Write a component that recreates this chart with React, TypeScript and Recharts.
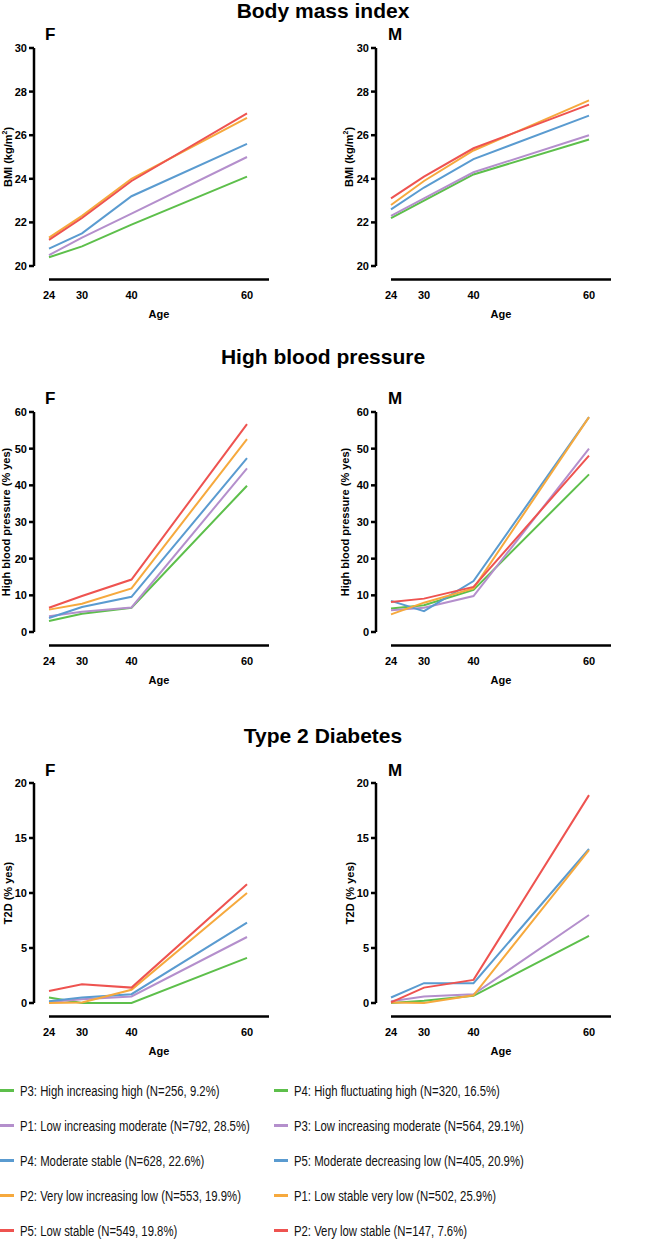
import React from 'react';
import { LineChart, Line, XAxis, YAxis, ReferenceLine, Legend } from 'recharts';

// x positions of the four measurement ages, and the labels printed under them
const AGE_POS = [24, 30, 39, 60];
const AGE_LABELS = ['24', '30', '40', '60'];

// series order everywhere: green, purple, blue, orange, red
const COLORS = ['#5dbf4b', '#b48fcc', '#5a9bd0', '#f6a93d', '#ee5350'];

const F_NAMES = [
  'P3: High increasing high (N=256, 9.2%)',
  'P1: Low increasing moderate (N=792, 28.5%)',
  'P4: Moderate stable (N=628, 22.6%)',
  'P2: Very low increasing low (N=553, 19.9%)',
  'P5: Low stable (N=549, 19.8%)',
];
const M_NAMES = [
  'P4: High fluctuating high (N=320, 16.5%)',
  'P3: Low increasing moderate (N=564, 29.1%)',
  'P5: Moderate decreasing low (N=405, 20.9%)',
  'P1: Low stable very low (N=502, 25.9%)',
  'P2: Very low stable (N=147, 7.6%)',
];

const BMI_F = [
  [20.4, 20.9, 21.9, 24.1],
  [20.5, 21.3, 22.4, 25.0],
  [20.8, 21.5, 23.2, 25.6],
  [21.3, 22.3, 24.0, 26.8],
  [21.2, 22.2, 23.9, 27.0],
];
const BMI_M = [
  [22.2, 23.0, 24.2, 25.8],
  [22.3, 23.1, 24.3, 26.0],
  [22.6, 23.6, 24.9, 26.9],
  [22.8, 23.9, 25.3, 27.6],
  [23.1, 24.1, 25.4, 27.4],
];
const HBP_F = [
  [3.0, 5.0, 6.6, 39.9],
  [4.3, 5.5, 6.7, 44.6],
  [3.8, 6.8, 9.6, 47.4],
  [6.1, 7.7, 11.9, 52.6],
  [6.6, 9.8, 14.3, 56.7],
];
const HBP_M = [
  [6.4, 7.3, 11.5, 43.0],
  [5.9, 6.6, 9.8, 50.0],
  [8.5, 5.7, 13.9, 58.6],
  [4.8, 8.0, 11.9, 58.6],
  [8.2, 9.1, 12.3, 48.1],
];
const T2D_F = [
  [0.5, 0.0, 0.0, 4.1],
  [0.1, 0.35, 0.6, 6.0],
  [0.15, 0.5, 0.8, 7.3],
  [0.0, 0.05, 1.2, 10.0],
  [1.1, 1.7, 1.4, 10.8],
];
const T2D_M = [
  [0.0, 0.2, 0.65, 6.1],
  [0.15, 0.6, 0.8, 8.0],
  [0.5, 1.8, 1.8, 14.0],
  [0.05, 0.0, 0.7, 13.9],
  [0.05, 1.4, 2.1, 18.9],
];

const BMI_TICKS = [20, 22, 24, 26, 28, 30];
const HBP_TICKS = [0, 10, 20, 30, 40, 50, 60];
const T2D_TICKS = [0, 5, 10, 15, 20];

const FONT = '"Liberation Sans", Arial, Helvetica, sans-serif';

const yLabel = (text: React.ReactNode, dx: number) => (props: any) => {
  const { x, y, height } = props.viewBox;
  const cx = x + dx;
  const cy = y + height / 2;
  return (
    <text
      x={cx}
      y={cy}
      transform={`rotate(-90, ${cx}, ${cy})`}
      textAnchor="middle"
      dominantBaseline="central"
      fontSize={11}
      fontWeight={700}
      fontFamily={FONT}
      fill="#000"
    >
      {text}
    </text>
  );
};

const ageLabel = (props: any) => {
  const { x, y, width } = props.viewBox;
  return (
    <text
      x={x + 15 + (width - 15) / 2}
      y={y + 48}
      textAnchor="middle"
      dominantBaseline="central"
      fontSize={11}
      fontWeight={700}
      fontFamily={FONT}
      fill="#000"
    >
      Age
    </text>
  );
};

// the legend face is a narrow sans; squeeze the regular one horizontally
const renderLegend = (props: any) => {
  const items = [...(props.payload || [])].sort((a: any, b: any) =>
    String(a.dataKey).localeCompare(String(b.dataKey))
  );
  return (
    <div style={{ paddingTop: 13 }}>
      {items.map((it: any) => (
        <div key={it.dataKey} style={{ height: 35, display: 'flex', alignItems: 'center' }}>
          <span style={{ width: 14, height: 3, background: it.color, display: 'inline-block', flex: 'none' }} />
          <span
            style={{
              marginLeft: 6,
              fontFamily: FONT,
              fontSize: 14,
              color: '#111',
              whiteSpace: 'nowrap',
              display: 'inline-block',
              transform: 'scaleX(0.81)',
              transformOrigin: 'left center',
            }}
          >
            {it.value}
          </span>
        </div>
      ))}
    </div>
  );
};

interface PanelProps {
  left: number;
  top: number;
  height: number;
  axisW: number;
  values: number[][];
  names: string[];
  yDomain: [number, number];
  yTicks: number[];
  label: React.ReactNode;
  labelDx: number;
  legendLeft?: number;
}

const Panel: React.FC<PanelProps> = ({
  left, top, height, axisW, values, names, yDomain, yTicks, label, labelDx, legendLeft,
}) => {
  const data = AGE_POS.map((age, i) => {
    const row: any = { age };
    values.forEach((s, k) => {
      row['s' + k] = s[i];
    });
    return row;
  });
  const tickStyle = { fontSize: 11, fontWeight: 700, fill: '#000', fontFamily: FONT };
  return (
    <div style={{ position: 'absolute', left, top }}>
      <LineChart width={axisW + 256} height={height} data={data} margin={{ top: 10, right: 21, bottom: 0, left: 0 }}>
        <XAxis
          dataKey="age"
          type="number"
          domain={[24, 64]}
          ticks={AGE_POS}
          interval={0}
          tickFormatter={(v: number) => AGE_LABELS[AGE_POS.indexOf(v)]}
          padding={{ left: 15, right: 0 }}
          axisLine={false}
          tickLine={false}
          tickSize={0}
          tickMargin={25}
          height={57}
          tick={tickStyle}
          label={{ content: ageLabel }}
        />
        <YAxis
          type="number"
          domain={yDomain}
          ticks={yTicks}
          interval={0}
          width={axisW}
          stroke="#000"
          axisLine={{ stroke: '#000', strokeWidth: 2.5 }}
          tickLine={{ stroke: '#000', strokeWidth: 2.5 }}
          tickSize={5}
          tickMargin={2}
          tick={tickStyle}
          label={{ content: yLabel(label, labelDx) }}
        />
        <ReferenceLine
          segment={[{ x: 24, y: yDomain[0] }, { x: 64, y: yDomain[0] }]}
          ifOverflow="visible"
          shape={(p: any) => (
            <line x1={p.x1} y1={p.y1 + 13.5} x2={p.x2} y2={p.y2 + 13.5} stroke="#000" strokeWidth={2.5} />
          )}
        />
        {values.map((_, k) => (
          <Line
            key={k}
            type="linear"
            dataKey={'s' + k}
            name={names[k]}
            stroke={COLORS[k]}
            strokeWidth={2}
            dot={false}
            activeDot={false}
            isAnimationActive={false}
          />
        ))}
        {legendLeft !== undefined && (
          <Legend
            layout="vertical"
            align="center"
            verticalAlign="bottom"
            wrapperStyle={{ left: legendLeft, width: 330 }}
            content={renderLegend}
          />
        )}
      </LineChart>
    </div>
  );
};

const titleStyle = (top: number): React.CSSProperties => ({
  position: 'absolute',
  left: 0,
  width: 646,
  top,
  textAlign: 'center',
  fontFamily: FONT,
  fontWeight: 700,
  fontSize: 21,
  lineHeight: '20px',
  color: '#000',
});

const letterStyle = (x: number, center: number): React.CSSProperties => ({
  position: 'absolute',
  left: x,
  top: center - 8.3,
  fontFamily: FONT,
  fontWeight: 700,
  fontSize: 17,
  lineHeight: '17px',
  color: '#000',
});

const bmiLabel = (
  <>
    BMI (kg/m<tspan dy={-4} fontSize={7}>2</tspan>
    <tspan dy={4}>)</tspan>
  </>
);

const App: React.FC = () => (
  <div
    style={{
      position: 'absolute',
      left: 0,
      top: 0,
      width: 646,
      height: 1239,
      overflow: 'hidden',
      background: '#fff',
    }}
  >
    <div style={titleStyle(1)}>Body mass index</div>
    <div style={titleStyle(346.5)}>High blood pressure</div>
    <div style={titleStyle(726)}>Type 2 Diabetes</div>

    <div style={letterStyle(45, 34.5)}>F</div>
    <div style={letterStyle(388, 34.5)}>M</div>
    <div style={letterStyle(45, 398)}>F</div>
    <div style={letterStyle(388, 398)}>M</div>
    <div style={letterStyle(45, 770)}>F</div>
    <div style={letterStyle(388, 770)}>M</div>

    <Panel left={0} top={38} height={285} axisW={34} values={BMI_F} names={F_NAMES} yDomain={[20, 30]} yTicks={BMI_TICKS} label={bmiLabel} labelDx={8} />
    <Panel left={336} top={38} height={285} axisW={40} values={BMI_M} names={M_NAMES} yDomain={[20, 30]} yTicks={BMI_TICKS} label={bmiLabel} labelDx={13} />

    <Panel left={0} top={402} height={287} axisW={34} values={HBP_F} names={F_NAMES} yDomain={[0, 60]} yTicks={HBP_TICKS} label="High blood pressure (% yes)" labelDx={6} />
    <Panel left={336} top={402} height={287} axisW={40} values={HBP_M} names={M_NAMES} yDomain={[0, 60]} yTicks={HBP_TICKS} label="High blood pressure (% yes)" labelDx={9} />

    <Panel left={0} top={773} height={475} axisW={34} values={T2D_F} names={F_NAMES} yDomain={[0, 20]} yTicks={T2D_TICKS} label="T2D (% yes)" labelDx={7.5} legendLeft={0} />
    <Panel left={336} top={773} height={475} axisW={40} values={T2D_M} names={M_NAMES} yDomain={[0, 20]} yTicks={T2D_TICKS} label="T2D (% yes)" labelDx={14} legendLeft={-62} />
  </div>
);

export default App;
